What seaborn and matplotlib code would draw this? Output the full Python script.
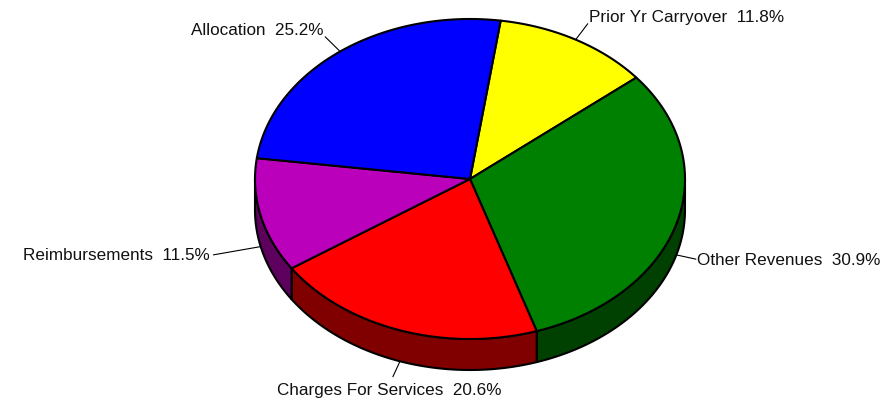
import numpy as np
import matplotlib
matplotlib.use("Agg")
import matplotlib.pyplot as plt
import seaborn as sns

sns.set_style("white")
plt.rcParams['font.family'] = ['Liberation Sans', 'DejaVu Sans']

# ---- data ----
categories = ["Prior Yr Carryover", "Other Revenues", "Charges For Services",
              "Reimbursements", "Allocation"]
shares = [11.8, 30.9, 20.6, 11.5, 25.2]
top_colors = ["#FFFF00", "#008000", "#FF0000", "#BB00BB", "#0000FF"]
side_colors = ["#808000", "#004000", "#800000", "#5E005E", "#000080"]

# ---- layout (pixel space) ----
W, H = 895, 404
cx, cy, rx, ry, depth = 470, 179, 215, 160, 31
start_angle = 8.2          # degrees clockwise from top
leader_len = [20, 20, 17, 48, 21]

fig = plt.figure(figsize=(W / 100, H / 100), dpi=100)
ax = fig.add_axes([0, 0, 1, 1])
ax.set_xlim(0, W)
ax.set_ylim(H, 0)
ax.axis("off")


def pt(t, dy=0.0):
    r = np.radians(t)
    return cx + rx * np.sin(r), cy - ry * np.cos(r) + dy


total = sum(shares)
angles = [start_angle]
for s in shares:
    angles.append(angles[-1] + 360.0 * s / total)

# sides (front half only: 90..270)
for i in range(len(shares)):
    a1, a2 = angles[i], angles[i + 1]
    for off in (0, 360, -360):
        lo = max(a1, 90 + off)
        hi = min(a2, 270 + off)
        if hi > lo:
            ts = np.linspace(lo, hi, 100)
            xs_t, ys_t = pt(ts)
            xs_b, ys_b = pt(ts[::-1], depth)
            ax.fill(np.concatenate([xs_t, xs_b]), np.concatenate([ys_t, ys_b]),
                    facecolor=side_colors[i], edgecolor="black", linewidth=1.5,
                    joinstyle="round", zorder=1)

# tops
for i in range(len(shares)):
    a1, a2 = angles[i], angles[i + 1]
    ts = np.linspace(a1, a2, 200)
    xs, ys = pt(ts)
    ax.fill(np.concatenate([[cx], xs]), np.concatenate([[cy], ys]),
            facecolor=top_colors[i], edgecolor="black", linewidth=1.5,
            joinstyle="round", zorder=2)

# labels
for i, (name, s) in enumerate(zip(categories, shares)):
    mid = (angles[i] + angles[i + 1]) / 2.0
    m = mid % 360
    front = 90 < m < 270
    ax_, ay_ = pt(mid, depth if front else 0)
    r = np.radians(mid)
    d = np.array([rx * np.sin(r), -ry * np.cos(r)])
    d = d / np.hypot(*d)
    ex, ey = ax_ + d[0] * leader_len[i], ay_ + d[1] * leader_len[i]
    ax.plot([ax_, ex], [ay_, ey], color="black", linewidth=0.8, zorder=3)
    from_top = min(m, 360 - m)
    if from_top < 45:
        va = "bottom"
        ha = "left" if np.sin(r) > 0 else "right"
        tx, ty = ex + (1 if ha == "left" else -2), ey + 1
    elif from_top > 150:
        va, ha = "top", "center"
        tx, ty = ex - 4, ey + 6
    else:
        va = "center"
        ha = "left" if np.sin(r) > 0 else "right"
        tx = ex + (1 if ha == "left" else -4)
        ty = ey + 1
    ax.text(tx, ty, f"{name}  {s:.1f}%", ha=ha, va=va, fontsize=12.3,
            color="#111111", zorder=4)

fig.savefig("out.png", dpi=100)
